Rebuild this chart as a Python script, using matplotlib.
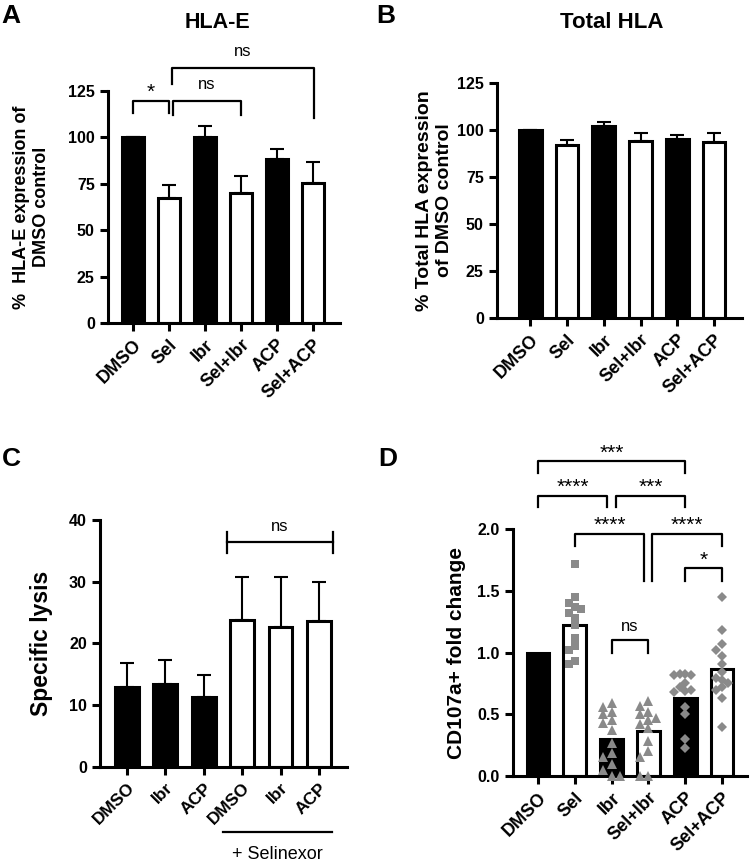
import numpy as np
import matplotlib.pyplot as plt
from matplotlib.transforms import blended_transform_factory

plt.rcParams['font.family'] = ['Liberation Sans', 'DejaVu Sans']
plt.rcParams['font.weight'] = 'bold'
plt.rcParams['axes.labelweight'] = 'bold'

# panel A / B / D groups
groups = ['DMSO', 'Sel', 'Ibr', 'Sel+Ibr', 'ACP', 'Sel+ACP']
fills = ['black', 'white', 'black', 'white', 'black', 'white']

hlae_mean = [100, 67.5, 100, 70, 88.5, 75.5]
hlae_err = [0, 6.7, 6.0, 9.0, 5.5, 11.0]

total_mean = [100, 91.8, 102, 94, 95, 93.8]
total_err = [0, 2.7, 2.4, 4.5, 2.6, 4.7]

# panel C
lysis_groups = ['DMSO', 'Ibr', 'ACP', 'DMSO', 'Ibr', 'ACP']
lysis_fills = ['black', 'black', 'black', 'white', 'white', 'white']
lysis_mean = [13.0, 13.4, 11.4, 23.8, 22.6, 23.6]
lysis_err = [3.8, 4.0, 3.5, 7.0, 8.2, 6.4]

# panel D
cd_mean = [1.0, 1.22, 0.30, 0.365, 0.63, 0.87]
cd_sel = [1.72, 1.45, 1.40, 1.37, 1.35, 1.32, 1.28, 1.22, 1.12, 1.05, 1.02, 0.93, 0.91]
cd_ibr = [0.59, 0.56, 0.52, 0.50, 0.45, 0.43, 0.37, 0.27, 0.19, 0.15, 0.10, 0.05, 0.0, 0.0]
cd_selibr = [0.61, 0.57, 0.52, 0.50, 0.47, 0.45, 0.42, 0.39, 0.28, 0.20, 0.15, 0.0, 0.0]
cd_acp = [0.83, 0.83, 0.82, 0.82, 0.75, 0.72, 0.70, 0.69, 0.68, 0.56, 0.50, 0.30, 0.23]
cd_selacp = [1.45, 1.18, 1.07, 1.02, 0.97, 0.91, 0.84, 0.79, 0.78, 0.75, 0.72, 0.70, 0.63, 0.40]


def style(ax):
    for s in ['top', 'right']:
        ax.spines[s].set_visible(False)
    for s in ['left', 'bottom']:
        ax.spines[s].set_linewidth(2.2)
    ax.tick_params(width=2.2, length=6, labelsize=11.5)


def bars(ax, mean, err, cols):
    x = np.arange(len(mean))
    ax.bar(x, mean, width=0.62, color=cols, edgecolor='black', linewidth=2.2, zorder=2)
    if err is not None:
        ax.errorbar(x, mean, yerr=[np.zeros(len(err)), err], fmt='none', ecolor='black',
                    elinewidth=1.5, capsize=5, capthick=1.5, zorder=1)
    ax.set_xticks(x)


def xlabels(ax, labels, size=13):
    ax.set_xticklabels(labels, rotation=45, ha='right', rotation_mode='anchor', fontsize=size)


def bracket(ax, x1, x2, top, l1, l2, txt, ty, size=12, weight='normal'):
    ax.plot([x1, x1, x2, x2], [l1, top, top, l2], color='black', lw=1.6, clip_on=False)
    ax.text((x1 + x2) / 2, ty, txt, ha='center', va='center', fontsize=size,
            fontweight=weight, clip_on=False)


def swarm(vals, step, h):
    placed = []
    offs = []
    for v in vals:
        for k in [0, -1, 1, -2, 2, -3, 3]:
            dx = k * step
            ok = all(not (abs(dx - px) < step * 0.9 and abs(v - py) < h) for px, py in placed)
            if ok:
                break
        placed.append((dx, v))
        offs.append(dx)
    return np.array(offs)


fig = plt.figure(figsize=(7.5, 8.63), dpi=100)

# ---- A
axA = fig.add_axes([0.144, 0.6257, 0.309, 0.2689])
style(axA)
bars(axA, hlae_mean, hlae_err, fills)
axA.set_xlim(-0.69, 5.75)
axA.set_ylim(0, 125)
axA.set_yticks([0, 25, 50, 75, 100, 125])
xlabels(axA, groups)
axA.set_ylabel('%  HLA-E expression of\nDMSO control', fontsize=13)
axA.yaxis.set_label_coords(-0.25, 0.5)
bracket(axA, 0, 1, 119.5, 113, 113, '*', 124.5, size=15)
bracket(axA, 1.13, 3, 119.5, 112, 112, 'ns', 128.5)
bracket(axA, 1.1, 5.03, 137.5, 129, 110.5, 'ns', 146)
fig.text(0.29, 1 - 22 / 863, 'HLA-E', ha='center', va='center', fontsize=15.5)

# ---- B
axB = fig.add_axes([0.6627, 0.6315, 0.3267, 0.2723])
style(axB)
bars(axB, total_mean, total_err, fills)
axB.set_xlim(-0.9, 5.76)
axB.set_ylim(0, 125)
axB.set_yticks([0, 25, 50, 75, 100, 125])
xlabels(axB, groups)
axB.set_ylabel('% Total HLA expression\nof DMSO control', fontsize=14)
axB.yaxis.set_label_coords(-0.18, 0.5)
fig.text(0.816, 1 - 22 / 863, 'Total HLA', ha='center', va='center', fontsize=16)

# ---- C
axC = fig.add_axes([0.1333, 0.1112, 0.3294, 0.2863])
style(axC)
bars(axC, lysis_mean, lysis_err, lysis_fills)
axC.set_xlim(-0.7, 5.73)
axC.set_ylim(0, 40)
axC.set_yticks([0, 10, 20, 30, 40])
xlabels(axC, lysis_groups, size=12.5)
axC.set_ylabel('Specific lysis', fontsize=16.5)
axC.yaxis.set_label_coords(-0.19, 0.5)
axC.plot([2.6, 5.37], [36.4, 36.4], color='black', lw=1.6, clip_on=False)
axC.plot([2.6, 2.6], [34.7, 38.1], color='black', lw=1.6, clip_on=False)
axC.plot([5.37, 5.37], [34.7, 38.1], color='black', lw=1.6, clip_on=False)
axC.text(3.98, 39.0, 'ns', ha='center', va='center', fontsize=12, fontweight='normal')
tr = blended_transform_factory(axC.transData, axC.transAxes)
axC.plot([2.51, 5.35], [-0.263, -0.263], color='black', lw=1.6, transform=tr, clip_on=False)
axC.text(3.91, -0.356, '+ Selinexor', ha='center', va='center', fontsize=13,
         fontweight='normal', transform=tr)

# ---- D
axD = fig.add_axes([0.684, 0.1008, 0.312, 0.2862])
style(axD)
bars(axD, cd_mean, None, fills)
axD.set_xlim(-0.68, 5.68)
axD.set_ylim(0, 2.0)
axD.set_yticks([0, 0.5, 1.0, 1.5, 2.0])
axD.set_yticklabels(['0.0', '0.5', '1.0', '1.5', '2.0'])
xlabels(axD, groups)
axD.set_ylabel('CD107a+ fold change', fontsize=15)
axD.yaxis.set_label_coords(-0.2, 0.5)
pts = [(1, cd_sel, 's', 5.5, 0.17), (2, cd_ibr, '^', 6.5, 0.23), (3, cd_selibr, '^', 6.5, 0.22),
       (4, cd_acp, 'D', 5, 0.15), (5, cd_selacp, 'D', 5, 0.17)]
for xc, vals, mk, ms, stp in pts:
    off = swarm(vals, stp, 0.055)
    axD.plot(xc + off, vals, linestyle='none', marker=mk, ms=ms, color='#8a8a8a',
             markeredgewidth=0, zorder=3, clip_on=False)
bracket(axD, 0, 4, 2.553, 2.456, 2.456, '***', 2.61, size=15)
bracket(axD, 0, 1.88, 2.27, 2.175, 2.175, '****', 2.34, size=15)
bracket(axD, 2.11, 4, 2.27, 2.175, 2.175, '***', 2.34, size=15)
bracket(axD, 1, 2.89, 1.96, 1.86, 1.58, '****', 2.03, size=15)
bracket(axD, 3.09, 5, 1.96, 1.58, 1.86, '****', 2.03, size=15)
bracket(axD, 4, 5, 1.684, 1.58, 1.58, '*', 1.75, size=15)
bracket(axD, 2, 3, 1.10, 1.0, 1.0, 'ns', 1.21)

# panel letters
for lx, ly, L in [(0.002, 0.982, 'A'), (0.502, 0.982, 'B'), (0.002, 0.468, 'C'), (0.504, 0.468, 'D')]:
    fig.text(lx, ly, L, fontsize=19, ha='left', va='center')

fig.savefig('out.png', dpi=100)
